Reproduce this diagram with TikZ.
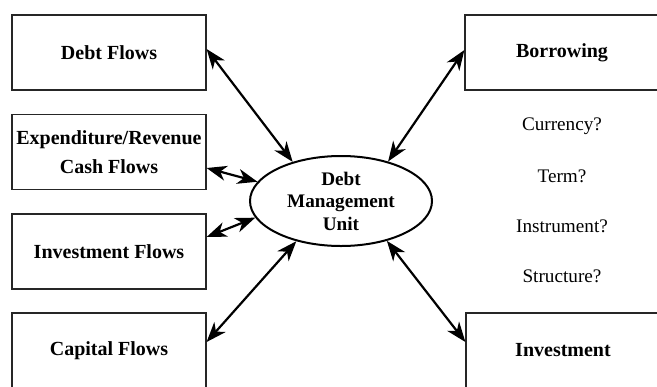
\documentclass[tikz,border=0pt]{standalone}
\usepackage{fontspec}
\setmainfont{Liberation Serif}
\usetikzlibrary{arrows.meta,shapes.geometric}
\tikzset{box/.style={rectangle,draw=black!85,line width=0.6pt,minimum width=97pt,minimum height=37.5pt,inner xsep=0.5pt,align=center,font=\fontsize{10}{14.5}\selectfont\bfseries},unit/.style={ellipse,draw,line width=1pt,minimum width=91pt,minimum height=45pt,inner sep=0pt,align=center,font=\fontsize{9.6}{11.25}\selectfont\bfseries},query/.style={font=\fontsize{9.6}{11}\selectfont},link/.style={<->,>={Stealth[length=10pt,width=7.5pt,inset=3pt]},line width=1.1pt}}

\begin{document}
\begin{tikzpicture}[x=0.5pt,y=-0.5pt]
\useasboundingbox (0,0) rectangle (657,386);

% left column
\node[box] (debtflows) at (109,52.5) {Debt Flows};
\node[box] (cashflows) at (109,152) {Expenditure/Revenue\\Cash Flows};
\node[box] (invflows) at (109,251.5) {Investment Flows};
\node[box] (capflows) at (109,350.5) {Capital Flows};

% centre
\node[unit] (dmu) at (341,201) {Debt\\Management\\Unit};

% right column
\node[box] (borrow) at (562,52.5) {Borrowing};
\node[query] (currency) at (562,126) {Currency?};
\node[query] (term) at (562,176) {Term?};
\node[query] (instrument) at (562,226) {Instrument?};
\node[query] (structure) at (562,276) {Structure?};
\node[box] (invest) at (563,350.5) {Investment};

% links
\draw[link] ([yshift=1.75pt]debtflows.east) -- (dmu.141);
\draw[link] ([yshift=-8pt]cashflows.east) -- (dmu.167);
\draw[link] ([yshift=7.25pt]invflows.east) -- (dmu.191);
\draw[link] ([yshift=4.25pt]capflows.east) -- (dmu.222);
\draw[link] ([yshift=1.25pt]borrow.west) -- (dmu.40);
\draw[link] ([yshift=4.25pt]invest.west) -- (dmu.319);
\end{tikzpicture}
\end{document}
